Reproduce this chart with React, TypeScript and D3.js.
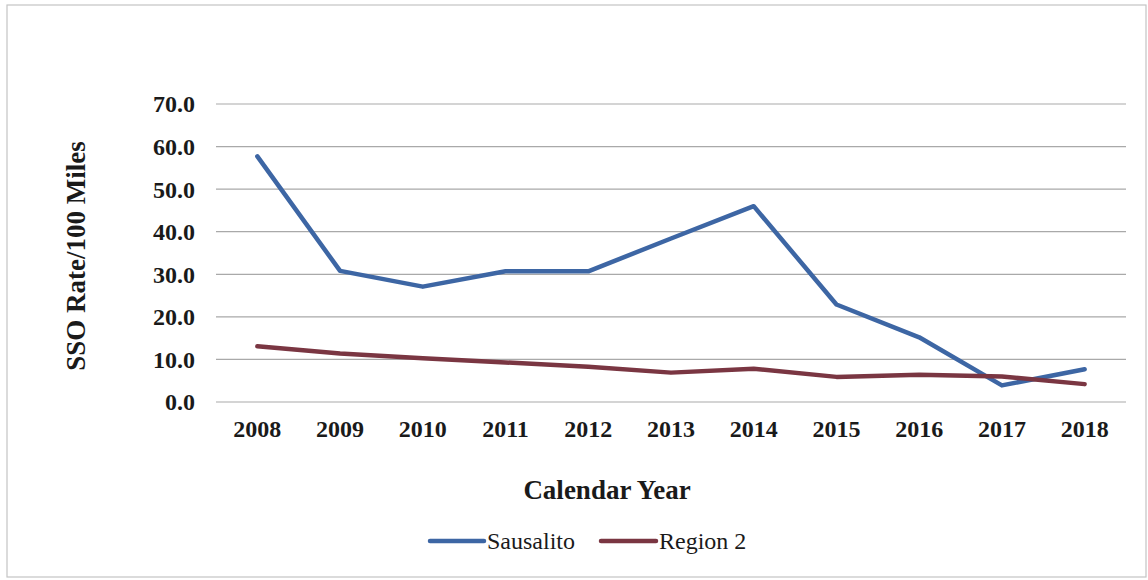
import React from "react";
import * as d3 from "d3";

const years = ["2008", "2009", "2010", "2011", "2012", "2013", "2014", "2015", "2016", "2017", "2018"];
const sausalito = [57.7, 30.8, 27.1, 30.7, 30.7, 38.4, 46.0, 22.9, 15.2, 3.9, 7.7];
const region2 = [13.1, 11.4, 10.3, 9.3, 8.3, 6.9, 7.8, 5.9, 6.4, 6.0, 4.2];
const yTicks = [0, 10, 20, 30, 40, 50, 60, 70];

const seriesList = [
  { name: "Sausalito", values: sausalito, color: "#3d66a4" },
  { name: "Region 2", values: region2, color: "#7a3642" },
];

const W = 1148;
const H = 580;
const plot = { left: 216, right: 1126, top: 104, bottom: 402 };
const font = "'Liberation Serif', 'Times New Roman', serif";
const ink = "#1a1a1a";

export default function App() {
  const x = d3.scaleBand<string>().domain(years).range([plot.left, plot.right]);
  const y = d3.scaleLinear().domain([0, 70]).range([plot.bottom, plot.top]);
  const line = d3
    .line<number>()
    .x((_, i) => (x(years[i]) as number) + x.bandwidth() / 2)
    .y((d) => y(d));

  const legendItems = [
    { ...seriesList[0], x0: 430, x1: 484 },
    { ...seriesList[1], x0: 601, x1: 656 },
  ];

  return (
    <svg
      width={W}
      height={H}
      style={{ position: "absolute", left: 0, top: 0, background: "#fff", fontFamily: font }}
    >
      <rect x={7} y={5} width={1139} height={572} fill="#fff" stroke="#c4c4c4" strokeWidth={1.2} />
      {yTicks.map((t) => (
        <g key={t}>
          <line x1={plot.left} x2={plot.right} y1={y(t)} y2={y(t)} stroke="#a9a9a9" strokeWidth={1.2} />
          <text
            x={195}
            y={y(t)}
            dy="0.35em"
            textAnchor="end"
            fontSize={24}
            fontWeight="bold"
            fill={ink}
            style={{ fontFamily: font }}
          >
            {t.toFixed(1)}
          </text>
        </g>
      ))}
      {years.map((yr) => (
        <text
          key={yr}
          x={(x(yr) as number) + x.bandwidth() / 2}
          y={429}
          dy="0.35em"
          textAnchor="middle"
          fontSize={24}
          fontWeight="bold"
          fill={ink}
          style={{ fontFamily: font }}
        >
          {yr}
        </text>
      ))}
      {seriesList.map((s) => (
        <path
          key={s.name}
          d={line(s.values) as string}
          fill="none"
          stroke={s.color}
          strokeWidth={4.5}
          strokeLinejoin="round"
          strokeLinecap="round"
        />
      ))}
      <text
        transform="translate(76,256) rotate(-90)"
        textAnchor="middle"
        dy="0.35em"
        fontSize={27}
        fontWeight="bold"
        fill={ink}
        style={{ fontFamily: font }}
      >
        SSO Rate/100 Miles
      </text>
      <text
        x={607}
        y={490}
        dy="0.35em"
        textAnchor="middle"
        fontSize={27}
        fontWeight="bold"
        fill={ink}
        style={{ fontFamily: font }}
      >
        Calendar Year
      </text>
      {legendItems.map((l) => (
        <g key={l.name}>
          <line x1={l.x0} x2={l.x1} y1={541} y2={541} stroke={l.color} strokeWidth={4.5} strokeLinecap="round" />
          <text x={l.x1 + 3} y={541} dy="0.35em" fontSize={24} fill={ink} style={{ fontFamily: font }}>
            {l.name}
          </text>
        </g>
      ))}
    </svg>
  );
}
